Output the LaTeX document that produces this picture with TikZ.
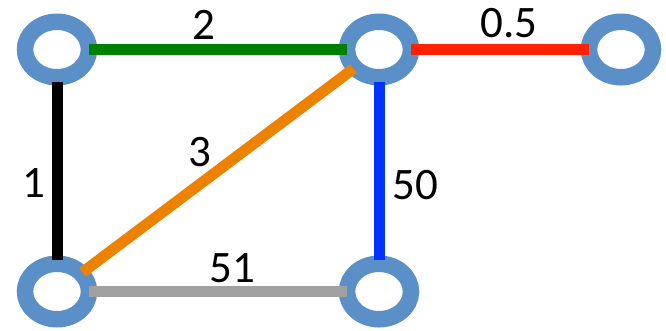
\documentclass[tikz,border=0pt]{standalone}
\usepackage{fontspec}
\setmainfont{Carlito}
\usepackage{tikz}
\usetikzlibrary{shapes.geometric}
\definecolor{ringblau}{RGB}{91,143,199}
\definecolor{gruen}{RGB}{0,128,0}
\definecolor{rot}{RGB}{255,34,0}
\definecolor{orangekante}{RGB}{237,130,0}
\definecolor{blau}{RGB}{0,51,255}
\definecolor{grau}{RGB}{160,160,160}

\begin{document}
\begin{tikzpicture}
     [
     x=1pt, y=-1pt,
     ring/.style = {draw=ringblau, line width=16.5pt, fill=white, shape=ellipse,
                    minimum width=64pt, minimum height=55.5pt, inner sep=0pt},
     kante/.style = {line width=11pt, shorten <=32pt, shorten >=32pt},
     gewicht/.style = {font=\fontsize{45}{50}\selectfont, inner sep=0pt}
     ]

     \useasboundingbox (0,0) rectangle (666,330);

     % knoten
     \draw (57,49.5) node[ring] (tl) {}
           (379,49.5) node[ring] (tm) {}
           (621,49.5) node[ring] (tr) {}
           (57,291.5) node[ring] (bl) {}
           (379,291.5) node[ring] (bm) {}
     ;

     % kanten
     \draw[kante, gruen] (tl.center) -- (tm.center);
     \draw[kante, rot] (tm.center) -- (tr.center);
     \draw[kante, black] (tl.center) -- (bl.center);
     \draw[kante, blau] (tm.center) -- (bm.center);
     \draw[kante, orangekante] (bl.center) -- (tm.center);
     \draw[kante, grau] (bl.center) -- (bm.center);

     % gewichte
     \path (204,25) node[gewicht] (w2) {2}
           (509,23.5) node[gewicht] (w05) {0.5}
           (34,183) node[gewicht] (w1) {1}
           (200,152) node[gewicht] (w3) {3}
           (415,185) node[gewicht] (w50) {50}
           (232,268) node[gewicht] (w51) {51}
     ;
\end{tikzpicture}
\end{document}
